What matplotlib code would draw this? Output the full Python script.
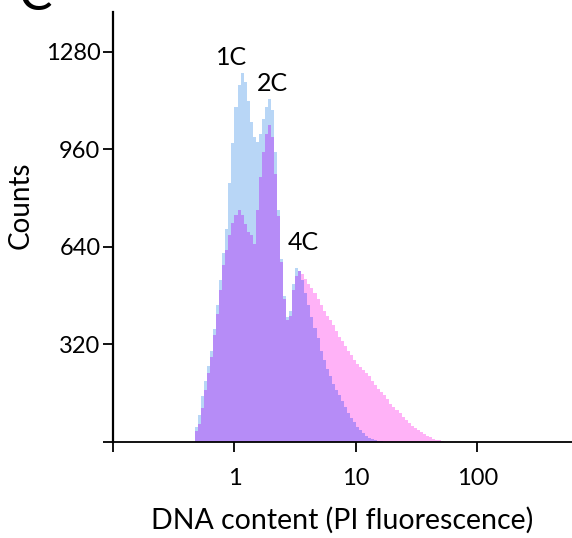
import numpy as np
import matplotlib
matplotlib.use("Agg")
import matplotlib.pyplot as plt

plt.rcParams['font.family'] = ['Lato', 'DejaVu Sans']

# histogram bins (log10 of PI fluorescence), 0.025 decade wide
log_start = -0.325
log_step = 0.025

# 1C/2C sample (light blue)
blue_counts = [50, 90, 150, 200, 250, 300, 370, 450, 530, 620,
               700, 850, 980, 1100, 1170, 1210, 1180, 1120, 1050, 1000,
               985, 1010, 1060, 1100, 1125, 1090, 950, 760, 600, 480,
               410, 430, 520, 570, 560, 530, 490, 450, 410, 375,
               340, 300, 270, 240, 215, 190, 170, 155, 135, 115,
               95, 80, 65, 50, 38, 28, 20, 14, 9, 6,
               4, 2, 1, 0, 0, 0, 0, 0, 0, 0,
               0, 0, 0, 0, 0, 0, 0, 0, 0, 0,
               0, 0, 0, 0]

# second sample (pink)
pink_counts = [35, 60, 110, 170, 225, 280, 350, 420, 500, 580,
               630, 680, 720, 745, 760, 745, 715, 690, 680, 650,
               760, 870, 950, 1010, 1040, 1000, 880, 740, 590, 470,
               400, 415, 500, 545, 560, 550, 535, 520, 505, 490,
               470, 450, 430, 415, 400, 385, 365, 345, 330, 315,
               300, 285, 270, 255, 245, 235, 225, 215, 200, 188,
               175, 165, 155, 140, 125, 115, 105, 95, 82, 72,
               62, 54, 45, 38, 32, 26, 20, 15, 11, 8,
               5, 3, 1, 0]

peak_labels = ['1C', '2C', '4C']
peak_x = [0.95, 2.07, 3.66]
peak_y = [1262, 1178, 653]

yticks = [0, 320, 640, 960, 1280]
xticks = [0.1, 1, 10, 100]

blue = np.array(blue_counts, dtype=float)
pink = np.array(pink_counts, dtype=float)
edges = 10 ** (log_start + log_step * np.arange(len(blue) + 1))
both = np.minimum(blue, pink)

fig = plt.figure(figsize=(5.72, 5.38), dpi=100)
ax = fig.add_axes([113/572, 96/538, 1 - 113/572, 430/538])

ax.stairs(blue, edges, fill=True, color='#b8d6f6', linewidth=0)
ax.stairs(pink, edges, fill=True, color='#ffb2f7', linewidth=0)
ax.stairs(both, edges, fill=True, color='#b68cf7', linewidth=0)

for lab, x, y in zip(peak_labels, peak_x, peak_y):
    ax.text(x, y, lab, ha='center', va='center', fontsize=18)

ax.set_xscale('log')
ax.set_xlim(0.1, 10 ** 2.778)
ax.set_ylim(0, 1411)
ax.set_xticks(xticks)
ax.set_xticklabels(['', '1', '10', '100'])
ax.xaxis.set_minor_locator(matplotlib.ticker.NullLocator())
ax.set_yticks(yticks)
ax.set_yticklabels(['', '320', '640', '960', '1280'])
ax.tick_params(axis='both', direction='out', length=7, width=1.3, labelsize=17)
ax.tick_params(axis='x', pad=12)
ax.tick_params(axis='y', pad=2)

for s in ['top', 'right']:
    ax.spines[s].set_visible(False)
ax.spines['left'].set_linewidth(1.6)
ax.spines['bottom'].set_linewidth(1.3)

ax.set_xlabel('DNA content (PI fluorescence)', fontsize=20.5)
ax.xaxis.set_label_coords(0.5, -0.15)
ax.set_ylabel('Counts', fontsize=20)
ax.yaxis.set_label_coords(-0.174, 0.551)

fig.text(0.033, 1 - 10/538, 'C', fontsize=36, va='baseline')

fig.savefig('out.png', dpi=100)
